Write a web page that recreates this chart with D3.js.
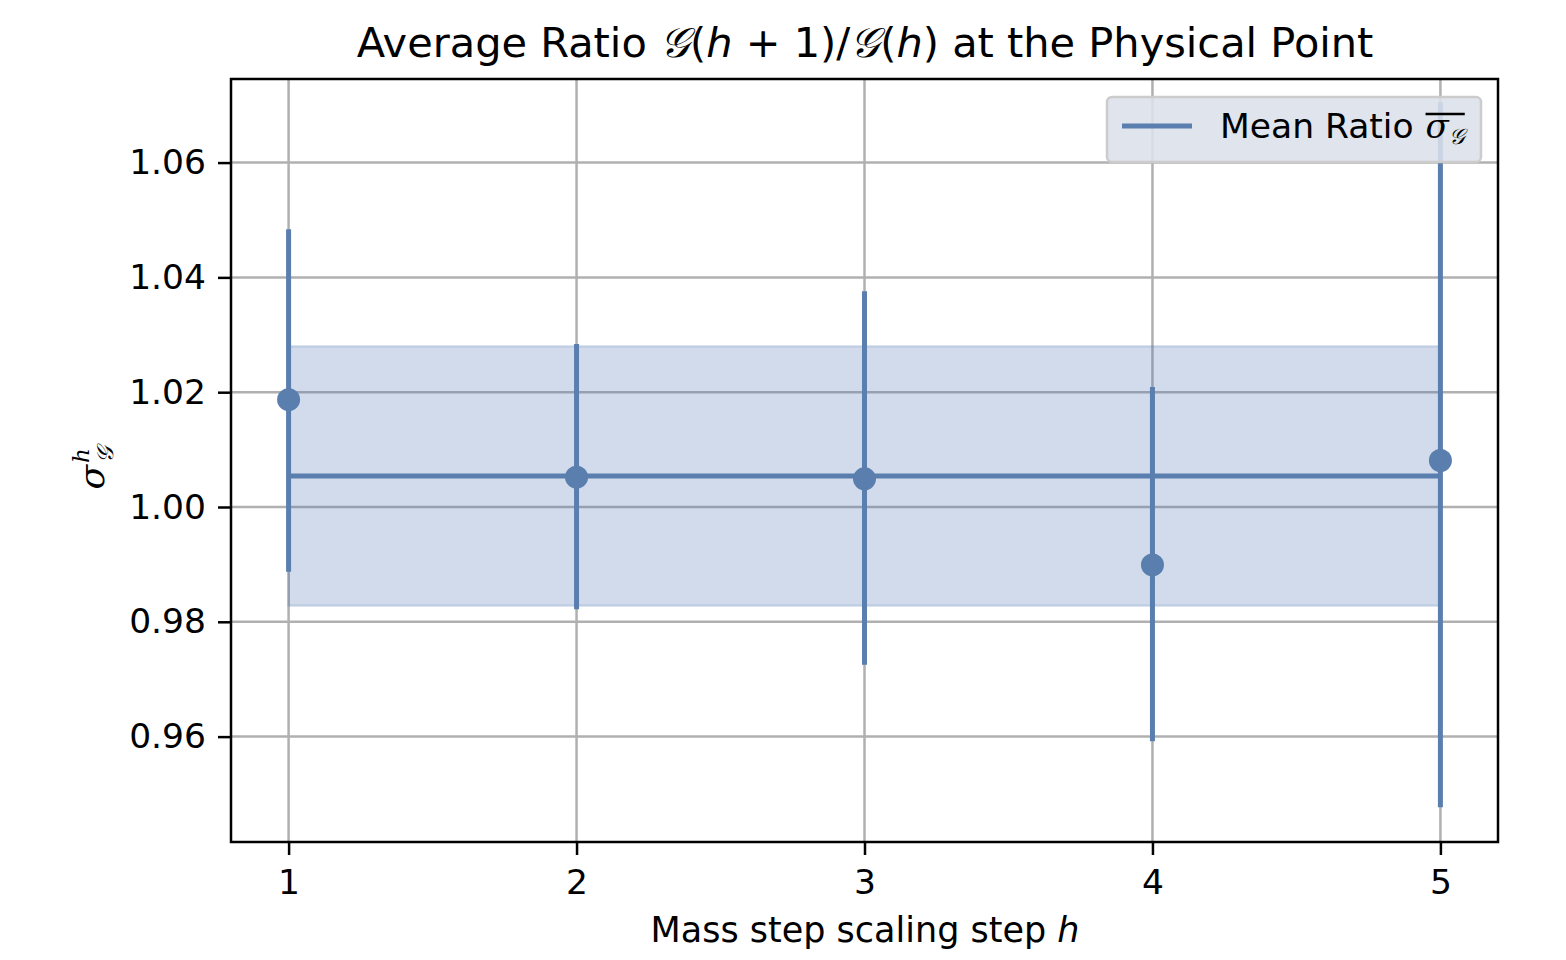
<!DOCTYPE html>
<html><head><meta charset="utf-8">
<script src="https://cdn.jsdelivr.net/npm/d3@7"></script>
<style>body{margin:0;background:#fff;} svg{display:block;font-family:"DejaVu Sans",sans-serif;} text{white-space:pre;}</style>
</head><body>
<script>
const steps = [1, 2, 3, 4, 5];
const ratios = [1.0187, 1.0052, 1.0049, 0.9899, 1.0081];
const errLow = [0.9887, 0.9822, 0.9725, 0.9592, 0.9477];
const errHigh = [1.0484, 1.0284, 1.0376, 1.0209, 1.0705];
const meanRatio = 1.0054;
const bandLow = 0.9828;
const bandHigh = 1.0280;
const xTicks = [1, 2, 3, 4, 5];
const yTicks = [0.96, 0.98, 1.00, 1.02, 1.04, 1.06];

const W = 1566, H = 960;
const m = {left: 231, right: 1498, top: 79, bottom: 842};
const color = "#5a7eae";

const svg = d3.select("body").append("svg").attr("width", W).attr("height", H);
const x = d3.scaleLinear().domain([0.8, 5.2]).range([m.left, m.right]);
const y = d3.scaleLinear().domain([0.94164, 1.07456]).range([m.bottom, m.top]);

// grid
svg.append("g").selectAll("line").data(xTicks).join("line")
  .attr("x1", d => x(d)).attr("x2", d => x(d)).attr("y1", m.top).attr("y2", m.bottom)
  .attr("stroke", "#b0b0b0").attr("stroke-width", 2.5);
svg.append("g").selectAll("line").data(yTicks).join("line")
  .attr("y1", d => y(d)).attr("y2", d => y(d)).attr("x1", m.left).attr("x2", m.right)
  .attr("stroke", "#b0b0b0").attr("stroke-width", 2.5);

// band
svg.append("rect")
  .attr("x", x(steps[0])).attr("width", x(steps[steps.length-1]) - x(steps[0]))
  .attr("y", y(bandHigh)).attr("height", y(bandLow) - y(bandHigh))
  .attr("fill", "#4C72B0").attr("fill-opacity", 0.26)
  .attr("stroke", "#4C72B0").attr("stroke-opacity", 0.2).attr("stroke-width", 2.5);

// mean line
svg.append("line")
  .attr("x1", x(steps[0])).attr("x2", x(steps[steps.length-1]))
  .attr("y1", y(meanRatio)).attr("y2", y(meanRatio))
  .attr("stroke", color).attr("stroke-width", 5);

// error bars
svg.append("g").selectAll("line").data(steps).join("line")
  .attr("x1", d => x(d)).attr("x2", d => x(d))
  .attr("y1", (d,i) => y(errLow[i])).attr("y2", (d,i) => y(errHigh[i]))
  .attr("stroke", color).attr("stroke-width", 5);

// points
svg.append("g").selectAll("circle").data(steps).join("circle")
  .attr("cx", d => x(d)).attr("cy", (d,i) => y(ratios[i])).attr("r", 11.5)
  .attr("fill", color);

// axes spines
svg.append("rect").attr("x", m.left).attr("y", m.top)
  .attr("width", m.right - m.left).attr("height", m.bottom - m.top)
  .attr("fill", "none").attr("stroke", "#000").attr("stroke-width", 2.5);

// ticks
const xa = svg.append("g").attr("transform", `translate(0,${m.bottom})`)
  .call(d3.axisBottom(x).tickValues(xTicks).tickFormat(d3.format("d")).tickSize(13).tickPadding(15));
xa.select(".domain").remove();
xa.selectAll("line").attr("stroke", "#000").attr("stroke-width", 2.5);
xa.selectAll("text").attr("font-size", 34.5).attr("fill", "#000").attr("font-family", "DejaVu Sans");

const ya = svg.append("g").attr("transform", `translate(${m.left},0)`)
  .call(d3.axisLeft(y).tickValues(yTicks).tickFormat(d3.format(".2f")).tickSize(13).tickPadding(12));
ya.select(".domain").remove();
ya.selectAll("line").attr("stroke", "#000").attr("stroke-width", 2.5);
ya.selectAll("text").attr("font-size", 34.5).attr("fill", "#000").attr("font-family", "DejaVu Sans");

// title
const title = svg.append("text").attr("x", 865).attr("y", 57).attr("text-anchor", "middle")
  .attr("font-size", 41.5).attr("fill", "#000");
title.append("tspan").text("Average Ratio ");
title.append("tspan").attr("font-style", "italic").text("𝒢");
title.append("tspan").text("(");
title.append("tspan").attr("font-style", "italic").text("h");
title.append("tspan").text(" + 1)/");
title.append("tspan").attr("font-style", "italic").text("𝒢");
title.append("tspan").text("(");
title.append("tspan").attr("font-style", "italic").text("h");
title.append("tspan").text(") at the Physical Point");

// x label
const xl = svg.append("text").attr("x", 865).attr("y", 942).attr("text-anchor", "middle")
  .attr("font-size", 35).attr("fill", "#000");
xl.append("tspan").text("Mass step scaling step ");
xl.append("tspan").attr("font-style", "italic").text("h");

// y label
const yl = svg.append("g").attr("transform", "translate(104,463) rotate(-90)");
yl.append("text").attr("x", -2).attr("y", 0).attr("text-anchor", "end").attr("font-size", 36)
  .attr("font-style", "italic").attr("font-family", "DejaVu Serif").text("σ");
yl.append("text").attr("x", 0).attr("y", -15).attr("font-size", 23)
  .attr("font-style", "italic").attr("font-family", "DejaVu Serif").text("h");
yl.append("text").attr("x", 0).attr("y", 9).attr("font-size", 23)
  .attr("font-style", "italic").text("𝒢");

// legend
const lg = svg.append("g");
lg.append("rect").attr("x", 1107).attr("y", 97).attr("width", 374).attr("height", 65)
  .attr("rx", 5).attr("fill", "#dbe0ea").attr("fill-opacity", 0.88)
  .attr("stroke", "#cccccc").attr("stroke-width", 2.5);
lg.append("line").attr("x1", 1122).attr("x2", 1192).attr("y1", 126).attr("y2", 126)
  .attr("stroke", color).attr("stroke-width", 5);
const t1 = lg.append("text").attr("x", 1220).attr("y", 138).attr("font-size", 34.5).attr("fill", "#000")
  .text("Mean Ratio");
const w1 = t1.node().getComputedTextLength();
const sx = 1220 + w1 + 12;
const t2 = lg.append("text").attr("x", sx).attr("y", 138).attr("font-size", 34).attr("fill", "#000")
  .attr("font-style", "italic").attr("font-family", "DejaVu Serif").text("σ");
const w2 = t2.node().getComputedTextLength();
const t3 = lg.append("text").attr("x", sx + w2).attr("y", 144).attr("font-size", 22).attr("fill", "#000")
  .attr("font-style", "italic").text("𝒢");
const w3 = t3.node().getComputedTextLength();
lg.append("line").attr("x1", sx).attr("x2", sx + w2 + w3).attr("y1", 114).attr("y2", 114)
  .attr("stroke", "#000").attr("stroke-width", 2.5);
</script>
</body></html>
